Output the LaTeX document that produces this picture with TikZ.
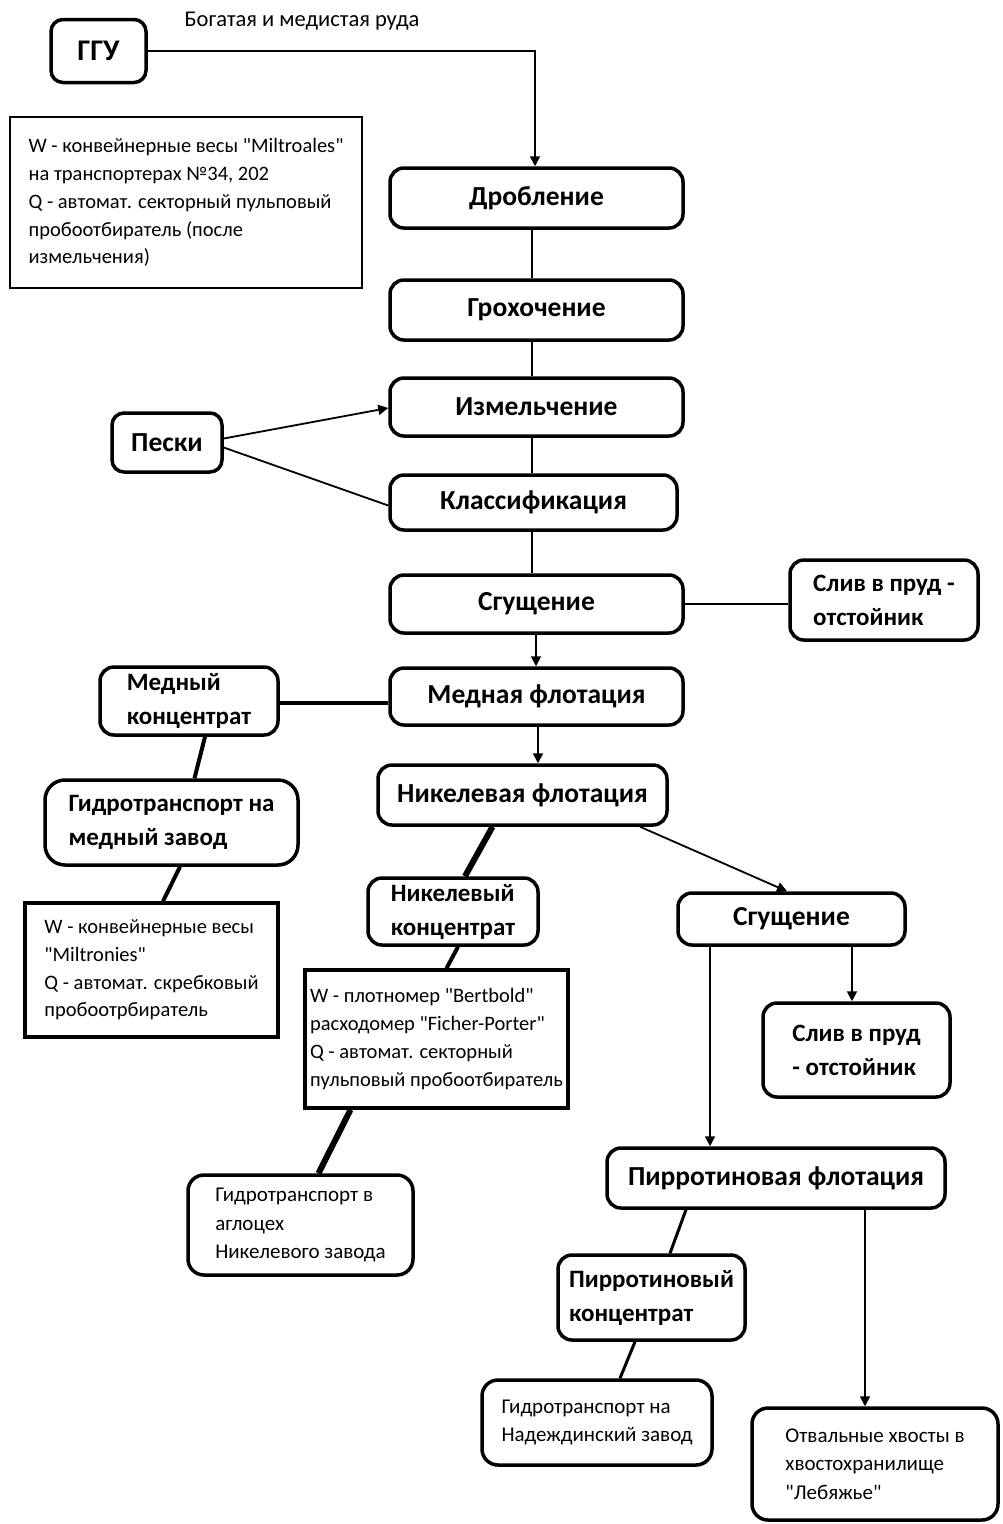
\documentclass[tikz,border=0pt]{standalone}
\usepackage{fontspec}
\setmainfont{Carlito}[Ligatures=TeXOff]
\usetikzlibrary{arrows.meta}
\begin{document}
\begin{tikzpicture}[x=1pt,y=-1pt,
  proc/.style={draw, line width=3.5pt, rounded corners=14pt, inner sep=0pt, align=center,
    font=\bfseries\fontsize{27.5}{32}\selectfont},
  midbox/.style={draw, line width=3.5pt, rounded corners=14pt, inner sep=0pt, align=left,
    font=\bfseries\fontsize{25}{34}\selectfont},
  smallbox/.style={draw, line width=3.5pt, rounded corners=16pt, inner sep=0pt, align=left,
    font=\fontsize{21}{28.5}\selectfont},
  infothin/.style={draw, line width=1.4pt, inner sep=0pt, align=left,
    font=\fontsize{20.5}{27.8}\selectfont},
  infothick/.style={draw, line width=3.5pt, inner sep=0pt, align=left,
    font=\fontsize{20.5}{27.8}\selectfont},
  thinline/.style={line width=1.8pt},
  arr/.style={line width=1.8pt, -{Triangle[length=10pt,width=10pt]}},
  thickline/.style={line width=4pt},
  vthick/.style={line width=6pt}
]
\useasboundingbox[fill=white] (0,0) rectangle (1003,1524);

% nodes
\node[proc, minimum width=95, minimum height=63, rounded corners=12pt, font=\bfseries\fontsize{30}{34}\selectfont] (ggu) at (98.5,51) {ГГУ};
\node[font=\fontsize{22.5}{26}\selectfont] (ore) at (302,21) {Богатая и медистая руда};
\node[infothin, minimum width=352, minimum height=171] (info1) at (186,202.5)
  {W - конвейнерные весы "Miltroales"\\на транспортерах №34, 202\\Q - автомат. секторный пульповый\\пробоотбиратель (после\\измельчения)};
\node[proc, minimum width=293, minimum height=60] (drob) at (536.5,198) {Дробление};
\node[proc, minimum width=293, minimum height=60] (groh) at (536.5,310) {Грохочение};
\node[proc, minimum width=293, minimum height=58] (izm) at (536.5,407) {Измельчение};
\node[proc, minimum width=287, minimum height=55] (klass) at (533.5,502.5) {Классификация};
\node[proc, minimum width=110, minimum height=59, rounded corners=12pt] (peski) at (167,442.5) {Пески};
\node[proc, minimum width=293, minimum height=58] (sgu1) at (536.5,604) {Сгущение};
\node[midbox, minimum width=188, minimum height=80] (sliv1) at (884,600) {Слив в пруд -\\отстойник};
\node[proc, minimum width=293, minimum height=57] (medfl) at (536.5,696.5) {Медная флотация};
\node[midbox, minimum width=178, minimum height=68] (medk) at (189,701) {Медный\\концентрат};
\node[midbox, minimum width=253, minimum height=85, rounded corners=20pt] (gt1) at (171.5,822.5) {Гидротранспорт на\\медный завод};
\node[infothick, minimum width=253, minimum height=134] (info2) at (151.5,970)
  {W - конвейнерные весы\\"Miltronies"\\Q - автомат. скребковый\\пробоотрбиратель};
\node[proc, minimum width=289, minimum height=60] (nikfl) at (522.5,795) {Никелевая флотация};
\node[midbox, minimum width=170, minimum height=67] (nikk) at (453,911.5) {Никелевый\\концентрат};
\node[infothick, minimum width=263, minimum height=138] (info3) at (436.5,1039)
  {W - плотномер "Bertbold"\\расходомер "Ficher-Porter"\\Q - автомат. секторный\\пульповый пробоотбиратель};
\node[proc, minimum width=227, minimum height=52] (sgu2) at (791.5,919) {Сгущение};
\node[midbox, minimum width=187, minimum height=94] (sliv2) at (856.5,1050) {Слив в пруд\\- отстойник};
\node[smallbox, minimum width=225, minimum height=100] (ag) at (300.5,1225) {Гидротранспорт в\\аглоцех\\Никелевого завода};
\node[proc, minimum width=338, minimum height=60] (pirfl) at (776,1178) {Пирротиновая флотация};
\node[midbox, minimum width=187, minimum height=85] (pirk) at (651.5,1297.5) {Пирротиновый\\концентрат};
\node[smallbox, minimum width=230, minimum height=85] (gt3) at (597,1422.5) {Гидротранспорт на\\Надеждинский завод};
\node[smallbox, minimum width=246, minimum height=112] (otv) at (875,1464) {Отвальные хвосты в\\хвостохранилище\\"Лебяжье"};

% connectors
\draw[arr] (ggu.east) -| ([xshift=-1.5]drob.north);
\draw[thinline] ([xshift=-4.5]drob.south) -- ([xshift=-4.5]groh.north);
\draw[thinline] ([xshift=-4.5]groh.south) -- ([xshift=-4.5]izm.north);
\draw[thinline] ([xshift=-4.5]izm.south) -- ([xshift=-1.5]klass.north);
\draw[thinline] ([xshift=-1.5]klass.south) -- ([xshift=-4.5]sgu1.north);
\draw[arr] ([yshift=4]peski.east) -- ([yshift=-1]izm.west);
\draw[thinline] ([yshift=-5]peski.east) -- ([yshift=-3]klass.west);
\draw[arr] ([xshift=-0.5]sgu1.south) -- ([xshift=-0.5]medfl.north);
\draw[thinline] (sgu1.east) -- (sgu1.east -| sliv1.west);
\draw[arr] ([xshift=1.5]medfl.south) -- ([xshift=15.5]nikfl.north);
\draw[thickline] ([yshift=-6]medfl.west) -- ([yshift=-6]medfl.west -| medk.east);
\draw[thickline] ([xshift=16]medk.south) -- ([xshift=23]gt1.north);
\draw[thickline] ([xshift=8.5]gt1.south) -- ([xshift=11.5]info2.north);
\draw[vthick] ([xshift=-30]nikfl.south) -- ([xshift=12]nikk.north);
\draw[thickline] ([xshift=5]nikk.south) -- ([xshift=10]info3.north);
\draw[vthick] ([xshift=-86]info3.south) -- ([xshift=18]ag.north);
\draw[arr] ([xshift=117.5]nikfl.south) -- ([xshift=-4.5]sgu2.north);
\draw[arr] ([xshift=60.5]sgu2.south) -- ([xshift=-4.5]sliv2.north);
\draw[arr] ([xshift=-81.5]sgu2.south) -- ([xshift=-66]pirfl.north);
\draw[line width=3pt] ([xshift=-90]pirfl.south) -- ([xshift=18.5]pirk.north);
\draw[line width=3pt] ([xshift=-16.5]pirk.south) -- ([xshift=23]gt3.north);
\draw[arr] ([xshift=89]pirfl.south) -- ([xshift=-10]otv.north);
\end{tikzpicture}
\end{document}
